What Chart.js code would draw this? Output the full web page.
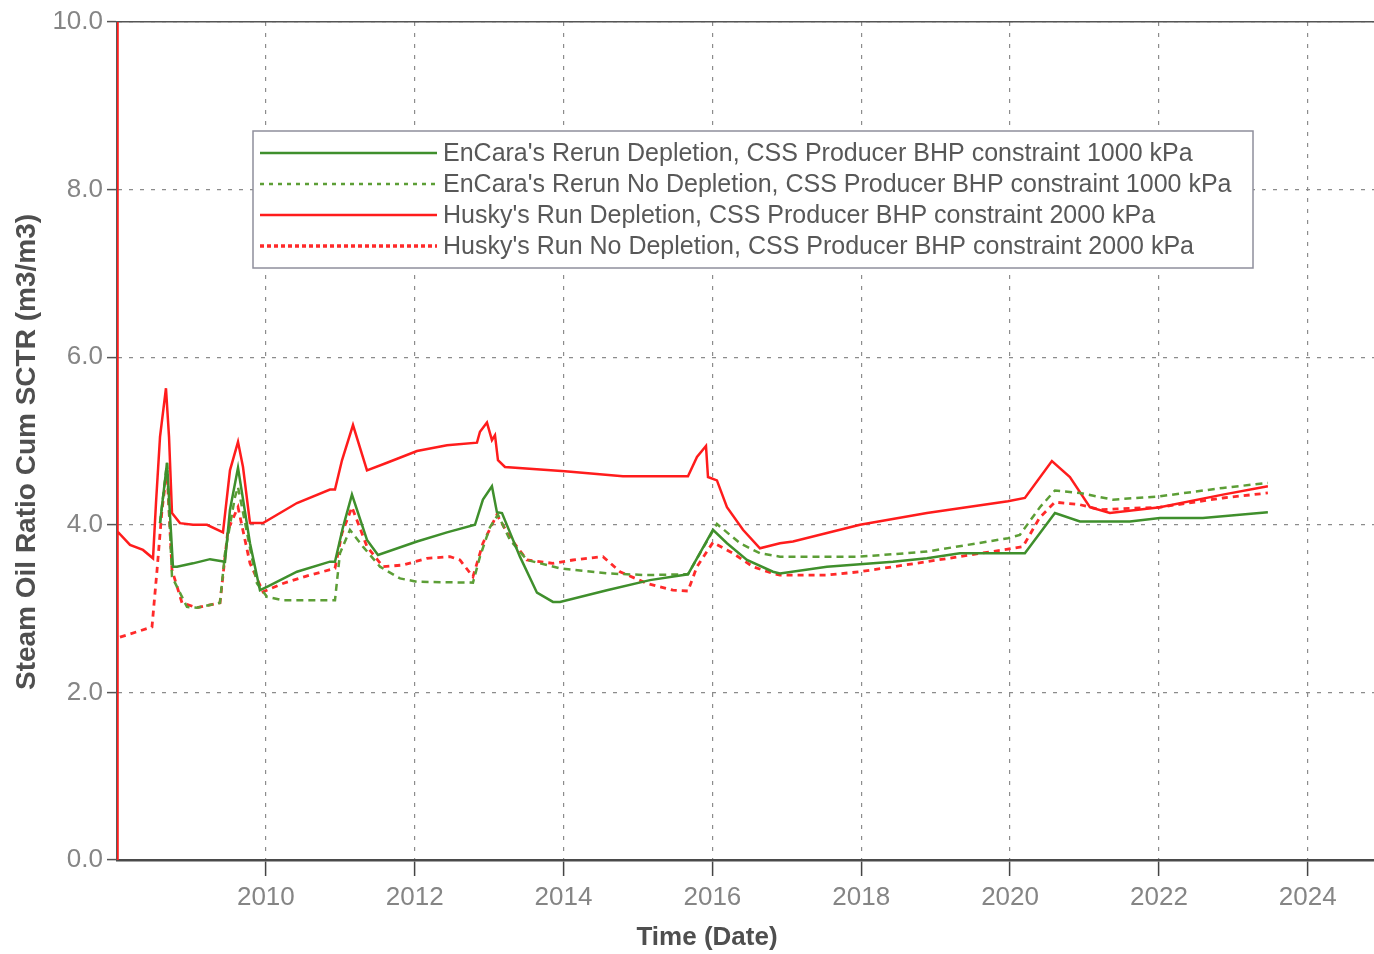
<!DOCTYPE html>
<html>
<head>
<meta charset="utf-8">
<script src="https://cdn.jsdelivr.net/npm/chart.js@4.4.1/dist/chart.umd.min.js"></script>
<style>
body{margin:0;background:#fff;}
#wrap{width:1374px;height:954px;}
</style>
</head>
<body>
<div id="wrap"><canvas id="sorChart" width="1374" height="954"></canvas></div>
<script>

/* axis ticks */
let yearTicks = [2010, 2012, 2014, 2016, 2018, 2020, 2022, 2024];
let sorStep = 2;

/* EnCara's Rerun Depletion */
let encDepYears = [2008.578, 2008.672, 2008.752, 2008.806, 2009.021, 2009.250, 2009.451, 2009.518, 2009.626, 2009.787,
  2009.921, 2010.015, 2010.418, 2010.862, 2010.929, 2011.036, 2011.157, 2011.359, 2011.507, 2012.031,
  2012.434, 2012.810, 2012.917, 2013.038, 2013.105, 2013.173, 2013.414, 2013.643, 2013.858, 2013.952,
  2014.583, 2015.161, 2015.672, 2016.008, 2016.196, 2016.464, 2016.814, 2016.908, 2017.539, 2017.983,
  2018.426, 2018.883, 2019.326, 2019.971, 2020.199, 2020.603, 2020.938, 2021.610, 2022.013, 2022.591,
  2023.464];
let encDepSOR = [4.02, 4.74, 3.50, 3.50, 3.54, 3.59, 3.56, 4.18, 4.68, 3.78,
  3.22, 3.26, 3.44, 3.56, 3.56, 3.97, 4.36, 3.82, 3.64, 3.80,
  3.91, 4.00, 4.30, 4.46, 4.15, 4.14, 3.62, 3.19, 3.08, 3.08,
  3.22, 3.34, 3.41, 3.94, 3.78, 3.58, 3.44, 3.42, 3.50, 3.53,
  3.56, 3.60, 3.66, 3.66, 3.66, 4.14, 4.04, 4.04, 4.08, 4.08,
  4.15];

/* EnCara's Rerun No Depletion */
let encNoDepYears = [2008.578, 2008.672, 2008.739, 2008.940, 2009.075, 2009.384, 2009.451, 2009.585, 2009.626, 2009.881,
  2010.015, 2010.230, 2010.929, 2010.996, 2011.130, 2011.305, 2011.534, 2011.802, 2012.031, 2012.783,
  2012.877, 2013.011, 2013.119, 2013.280, 2013.509, 2013.952, 2014.583, 2015.121, 2015.672, 2016.061,
  2016.371, 2016.639, 2016.908, 2017.983, 2018.883, 2019.971, 2020.132, 2020.401, 2020.603, 2020.938,
  2021.382, 2022.013, 2022.859, 2023.464];
let encNoDepSOR = [4.02, 4.74, 3.38, 3.02, 3.01, 3.07, 3.66, 4.33, 4.45, 3.30,
  3.14, 3.10, 3.10, 3.66, 3.94, 3.74, 3.50, 3.36, 3.32, 3.31,
  3.62, 3.97, 4.12, 3.82, 3.58, 3.48, 3.42, 3.40, 3.41, 4.01,
  3.78, 3.66, 3.62, 3.62, 3.68, 3.84, 3.88, 4.21, 4.41, 4.38,
  4.30, 4.34, 4.44, 4.50];

/* Husky's Run Depletion */
let huskyDepYears = [2008.000, 2008.004, 2008.010, 2008.175, 2008.349, 2008.484, 2008.524, 2008.578, 2008.658, 2008.699,
  2008.739, 2008.846, 2009.021, 2009.209, 2009.424, 2009.518, 2009.626, 2009.693, 2009.787, 2009.962,
  2010.418, 2010.862, 2010.929, 2011.023, 2011.171, 2011.359, 2011.628, 2012.031, 2012.434, 2012.837,
  2012.877, 2012.971, 2013.038, 2013.079, 2013.119, 2013.213, 2014.019, 2014.798, 2015.672, 2015.793,
  2015.914, 2015.941, 2016.061, 2016.196, 2016.411, 2016.639, 2016.908, 2017.083, 2017.983, 2018.883,
  2019.971, 2020.199, 2020.562, 2020.804, 2021.073, 2021.341, 2022.013, 2022.859, 2023.464];
let huskyDepSOR = [0, 12, 3.92, 3.76, 3.70, 3.60, 4.26, 5.05, 5.63, 5.05,
  4.14, 4.02, 4.00, 4.00, 3.91, 4.65, 4.99, 4.69, 4.02, 4.02,
  4.26, 4.42, 4.42, 4.77, 5.19, 4.65, 4.74, 4.88, 4.95, 4.98,
  5.11, 5.22, 5.01, 5.07, 4.77, 4.69, 4.64, 4.58, 4.58, 4.81,
  4.94, 4.57, 4.53, 4.21, 3.94, 3.72, 3.78, 3.80, 4.00, 4.14,
  4.28, 4.32, 4.76, 4.57, 4.21, 4.14, 4.21, 4.36, 4.46];

/* Husky's Run No Depletion */
let huskyNoDepYears = [2008.040, 2008.470, 2008.538, 2008.605, 2008.672, 2008.739, 2008.873, 2009.075, 2009.384, 2009.491,
  2009.626, 2009.787, 2009.962, 2010.230, 2010.593, 2010.929, 2011.023, 2011.157, 2011.359, 2011.574,
  2011.843, 2012.165, 2012.474, 2012.608, 2012.783, 2012.917, 2013.105, 2013.280, 2013.509, 2013.858,
  2014.127, 2014.530, 2014.758, 2015.121, 2015.470, 2015.672, 2015.793, 2016.008, 2016.276, 2016.545,
  2016.814, 2016.908, 2017.539, 2017.983, 2018.883, 2019.971, 2020.173, 2020.401, 2020.603, 2020.938,
  2021.207, 2022.013, 2022.859, 2023.464];
let huskyNoDepSOR = [2.66, 2.78, 3.46, 4.18, 4.65, 3.46, 3.07, 3.01, 3.07, 3.94,
  4.21, 3.54, 3.20, 3.30, 3.40, 3.48, 3.90, 4.21, 3.74, 3.50,
  3.52, 3.60, 3.62, 3.58, 3.38, 3.78, 4.12, 3.85, 3.58, 3.54,
  3.58, 3.62, 3.44, 3.30, 3.22, 3.21, 3.50, 3.79, 3.66, 3.50,
  3.42, 3.40, 3.40, 3.44, 3.56, 3.71, 3.74, 4.09, 4.27, 4.24,
  4.18, 4.21, 4.32, 4.38];

function pts(xs, ys){
  return xs.map((x, i) => ({x: x, y: ys[i]}));
}

let fontFam = "'Liberation Sans', Arial, sans-serif";

/* boxed legend inside the plot, plus the two axis titles */
const boxLegend = {
  id: "boxLegend",
  afterDatasetsDraw(chart){
    let ctx = chart.ctx;
    ctx.save();
    ctx.fillStyle = "#fff";
    ctx.fillRect(253, 131, 1000, 137);
    ctx.strokeStyle = "#8f8f9c";
    ctx.lineWidth = 1.5;
    ctx.strokeRect(253, 131, 1000, 137);
    chart.data.datasets.forEach((ds, i) => {
      let y = 153 + i * 31;
      ctx.strokeStyle = ds.borderColor;
      ctx.lineWidth = ds.legendWidth;
      ctx.setLineDash(ds.legendDash);
      ctx.beginPath();
      ctx.moveTo(260, y);
      ctx.lineTo(437, y);
      ctx.stroke();
      ctx.setLineDash([]);
      ctx.fillStyle = "#585858";
      ctx.font = "25px " + fontFam;
      ctx.textBaseline = "middle";
      ctx.fillText(ds.label, 443, y + 1);
    });

    /* axis titles */
    ctx.fillStyle = "#4f4f4f";
    ctx.font = "bold 26px " + fontFam;
    ctx.textAlign = "center";
    ctx.textBaseline = "middle";
    ctx.fillText("Time (Date)", 707, 938);
    ctx.translate(27, 452);
    ctx.rotate(-Math.PI / 2);
    ctx.font = "bold 28px " + fontFam;
    ctx.fillText("Steam Oil Ratio Cum SCTR (m3/m3)", 0, 0);
    ctx.restore();
  }
};

new Chart(document.getElementById("sorChart"), {
  type: "line",
  data: {
    datasets: [
      {
        label: "EnCara's Rerun Depletion, CSS Producer BHP constraint 1000 kPa",
        data: pts(encDepYears, encDepSOR),
        borderColor: "#3f8f2c",
        borderWidth: 2.5,
        borderDash: [],
        legendDash: [],
        legendWidth: 2.5
      },
      {
        label: "EnCara's Rerun No Depletion, CSS Producer BHP constraint 1000 kPa",
        data: pts(encNoDepYears, encNoDepSOR),
        borderColor: "#5c9e36",
        borderWidth: 2.5,
        borderDash: [7, 5],
        legendDash: [4, 5],
        legendWidth: 2.5
      },
      {
        label: "Husky's Run Depletion, CSS Producer BHP constraint 2000 kPa",
        data: pts(huskyDepYears, huskyDepSOR),
        borderColor: "#ff1c1c",
        borderWidth: 2.5,
        borderDash: [],
        legendDash: [],
        legendWidth: 2.5
      },
      {
        label: "Husky's Run No Depletion, CSS Producer BHP constraint 2000 kPa",
        data: pts(huskyNoDepYears, huskyNoDepSOR),
        borderColor: "#ff2a2a",
        borderWidth: 2.8,
        borderDash: [6, 5],
        legendDash: [4, 3],
        legendWidth: 3.5
      }
    ]
  },
  options: {
    responsive: false,
    animation: false,
    devicePixelRatio: 1,
    elements: {
      point: { radius: 0 },
      line: { tension: 0 }
    },
    layout: { padding: 0 },
    plugins: {
      legend: { display: false },
      tooltip: { enabled: false }
    },
    scales: {
      x: {
        type: "linear",
        position: "bottom",
        min: 2008,
        max: 2024.89,
        afterFit: s => { s.height = 94; },
        afterBuildTicks: s => { s.ticks = yearTicks.map(v => ({value: v})); },
        ticks: {
          color: "#858585",
          font: { family: fontFam, size: 26 },
          padding: 6,
          maxRotation: 0,
          autoSkip: false,
          callback: v => String(v)
        },
        grid: {
          color: "#8c8c8c",
          lineWidth: 1.2,
          tickColor: "#444",
          tickLength: 16,
          tickWidth: 1.5,
          tickBorderDash: []
        },
        border: { color: "#4a4a4a", width: 2.5, dash: [4, 7] }
      },
      xTop: {
        type: "linear",
        position: "top",
        min: 2008,
        max: 2024.89,
        afterFit: s => { s.height = 22; },
        ticks: { display: false },
        grid: { drawOnChartArea: false, drawTicks: false },
        border: { color: "#555", width: 1.5 }
      },
      y: {
        min: 0,
        max: 10,
        afterFit: s => { s.width = 117; },
        ticks: {
          stepSize: sorStep,
          color: "#858585",
          font: { family: fontFam, size: 26 },
          padding: 4,
          callback: v => v.toFixed(1)
        },
        grid: {
          color: "#8c8c8c",
          lineWidth: 1.2,
          tickColor: "#555",
          tickLength: 10,
          tickWidth: 1.5,
          tickBorderDash: []
        },
        border: { color: "#5a5a5a", width: 2, dash: [4, 7] }
      }
    }
  },
  plugins: [boxLegend]
});
</script>
</body>
</html>
